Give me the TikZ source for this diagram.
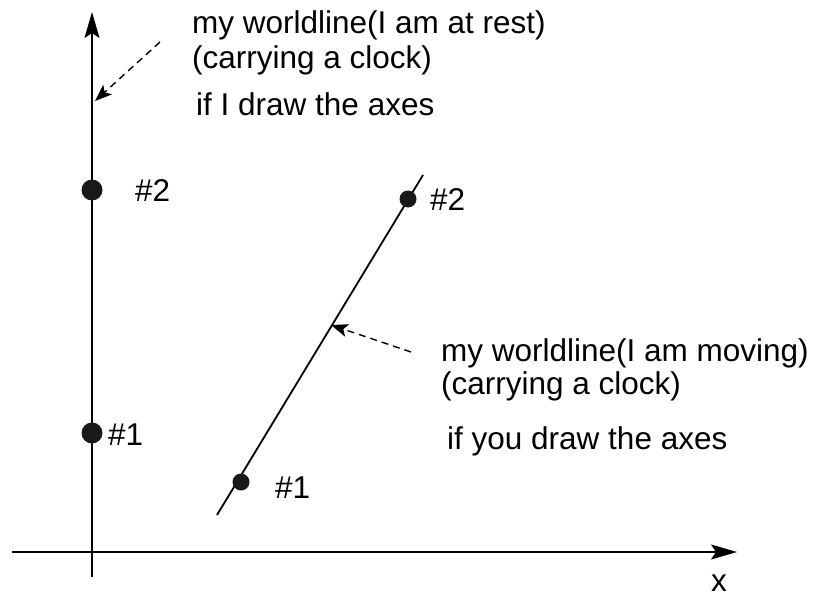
\documentclass[tikz,border=0pt]{standalone}
\usepackage{fontspec}
\setmainfont{Liberation Sans}
\usetikzlibrary{arrows.meta}
\tikzset{
  axisline/.style={line width=1.8pt, -{Stealth[length=26pt, width=15pt, inset=5pt]}},
  restdot/.style={circle, fill=black!90, inner sep=0pt, minimum size=21pt},
  movedot/.style={circle, fill=black!90, inner sep=0pt, minimum size=17pt},
  pointer/.style={line width=1.4pt, dash pattern=on 7pt off 5pt, -{Stealth[length=17pt, width=13pt, inset=4pt]}},
  label/.style={anchor=base west, inner sep=0pt, font=\fontsize{31.5}{36}\selectfont}
}
\begin{document}
\begin{tikzpicture}[x=1pt, y=-1pt]
  \useasboundingbox (0,0) rectangle (816,599);

  % Axes
  \coordinate (tbot) at (92,577);
  \coordinate (ttop) at (92,12);
  \coordinate (xleft) at (12,552);
  \coordinate (xright) at (737,552);
  \draw[axisline] (tbot) -- (ttop);
  \draw[axisline] (xleft) -- (xright);
  \node[label] (xlab) at (711,591) {x};

  % Worldline at rest
  \node[restdot] (rest2) at (92,190) {};
  \node[restdot] (rest1) at (92,433) {};
  \node[label] (rest2lab) at (135,201) {\#2};
  \node[label] (rest1lab) at (108,445) {\#1};

  % Worldline moving
  \coordinate (mstart) at (217,515);
  \coordinate (mend) at (423,175);
  \draw[line width=1.8pt] (mstart) -- (mend);
  \node[movedot] (move1) at (241,482) {};
  \node[movedot] (move2) at (408,199) {};
  \node[label] (move2lab) at (430,210) {\#2};
  \node[label] (move1lab) at (275,498) {\#1};

  % Texts
  \node[label] (resttxt) at (192,34) {my worldline(I am at rest)};
  \node[label] (restclock) at (192,69) {(carrying a clock)};
  \node[label] (restaxes) at (196,116) {if I draw the axes};
  \node[label] (movetxt) at (441,361) {my worldline(I am moving)};
  \node[label] (moveclock) at (441,394) {(carrying a clock)};
  \node[label] (moveaxes) at (447,449) {if you draw the axes};

  % Pointers
  \coordinate (ptop) at (160,42);
  \coordinate (ptopend) at (95,101);
  \coordinate (pmid) at (411,352);
  \coordinate (pmidend) at (331,325);
  \draw[pointer] (ptop) -- (ptopend);
  \draw[pointer] (pmid) -- (pmidend);
\end{tikzpicture}
\end{document}
